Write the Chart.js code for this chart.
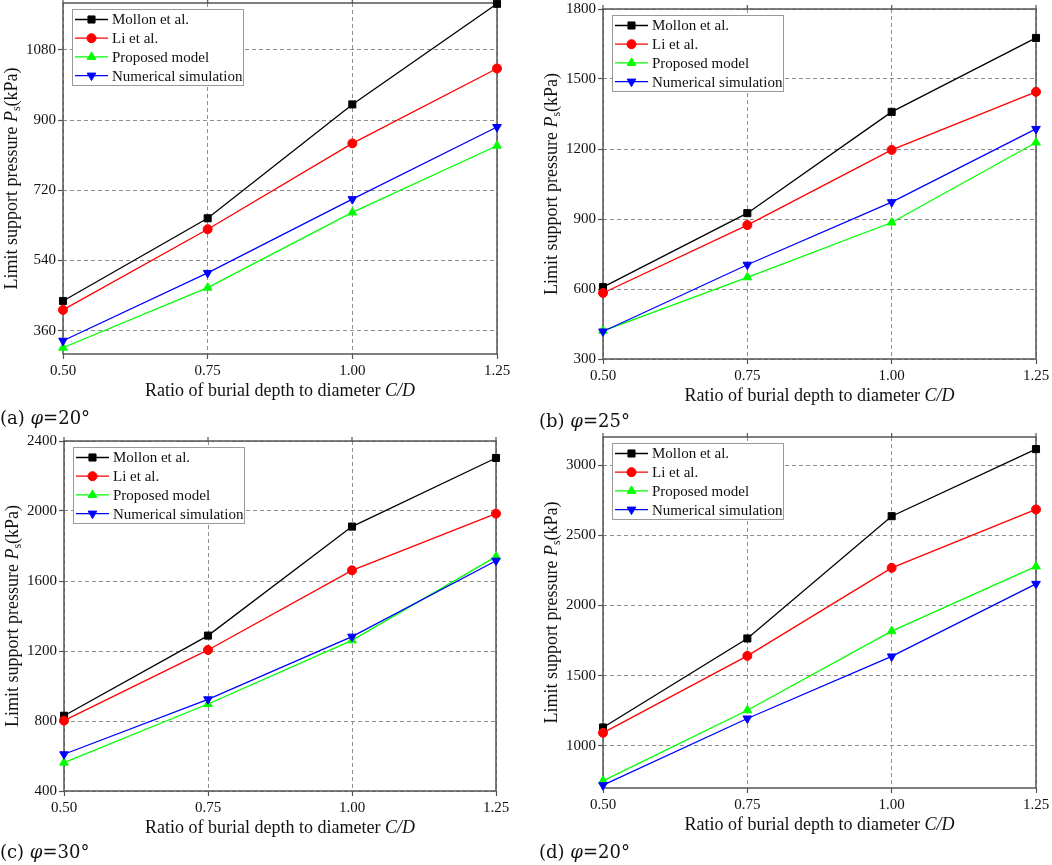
<!DOCTYPE html>
<html lang="en">
<head>
  <meta charset="UTF-8">
  <title>Limit support pressure vs C/D</title>
  <script src="https://cdn.jsdelivr.net/npm/chart.js"></script>
  <style>
    body {
      margin: 0;
      width: 1052px;
      height: 865px;
      overflow: hidden;
      background: #fff;
      position: relative;
    }
    .panel { position: absolute; }
    .cap {
      position: absolute;
      font-family: "DejaVu Serif", serif;
      font-size: 18px;
      line-height: 24px;
      color: #111;
      white-space: nowrap;
    }
  </style>
</head>
<body>

<div class="panel" style="left:0;top:0;width:526px;height:430px"><canvas id="chartA"></canvas></div>
<div class="panel" style="left:526px;top:0;width:526px;height:430px"><canvas id="chartB"></canvas></div>
<div class="panel" style="left:0;top:430px;width:526px;height:435px"><canvas id="chartC"></canvas></div>
<div class="panel" style="left:526px;top:430px;width:526px;height:435px"><canvas id="chartD"></canvas></div>

<div class="cap" style="left:0;top:406px">(a) <i>φ</i>=20°</div>
<div class="cap" style="left:539px;top:409px">(b) <i>φ</i>=25°</div>
<div class="cap" style="left:0;top:840px">(c) <i>φ</i>=30°</div>
<div class="cap" style="left:539px;top:840px">(d) <i>φ</i>=20°</div>

<script>
// C/D ratios on the x axis
const ratios = ['0.50', '0.75', '1.00', '1.25'];
const seriesNames = ['Mollon et al.', 'Li et al.', 'Proposed model', 'Numerical simulation'];

// (a) phi = 20
const mollonA = [436, 648, 940, 1198];
const liA = [413, 620, 840, 1032];
const proposedA = [316, 470, 663, 834];
const numericalA = [334, 508, 697, 882];
const yTicksA = [360, 540, 720, 900, 1080];

// (b) phi = 25
const mollonB = [608, 925, 1359, 1676];
const liB = [583, 874, 1196, 1445];
const proposedB = [421, 650, 885, 1228];
const numericalB = [418, 704, 972, 1286];
const yTicksB = [300, 600, 900, 1200, 1500, 1800];

// (c) phi = 30
const mollonC = [830, 1288, 1911, 2303];
const liC = [802, 1206, 1661, 1985];
const proposedC = [562, 897, 1261, 1739];
const numericalC = [610, 924, 1282, 1716];
const yTicksC = [400, 800, 1200, 1600, 2000, 2400];

// (d) phi = 20 (as labelled in the figure)
const mollonD = [1131, 1765, 2636, 3114];
const liD = [1093, 1641, 2268, 2684];
const proposedD = [751, 1254, 1817, 2278];
const numericalD = [720, 1195, 1637, 2154];
const yTicksD = [1000, 1500, 2000, 2500, 3000];

const serif = '"Liberation Serif", "Times New Roman", serif';
const tickFont = { family: serif, size: 15 };

// marker look per series
const looks = [
  { color: '#000000', pointStyle: 'rect', pointRadius: 5, rotation: 0 },
  { color: '#ff0000', pointStyle: 'circle', pointRadius: 4.5, rotation: 0 },
  { color: '#00ff00', pointStyle: 'triangle', pointRadius: 5, rotation: 0 },
  { color: '#0000ff', pointStyle: 'triangle', pointRadius: 5, rotation: 180 }
];

// box around plot + top ticks, drawn under the lines
const framePlugin = {
  id: 'frame',
  beforeDatasetsDraw(chart) {
    const { ctx, chartArea: a, scales } = chart;
    ctx.save();
    ctx.strokeStyle = '#555';
    ctx.lineWidth = 1.2;
    ctx.beginPath();
    scales.x.ticks.forEach((t, i) => {
      const px = scales.x.getPixelForTick(i);
      ctx.moveTo(px, a.top);
      ctx.lineTo(px, a.top - 4);
    });
    ctx.stroke();
    ctx.lineWidth = 1.5;
    ctx.strokeRect(a.left, a.top, a.right - a.left, a.bottom - a.top);
    ctx.restore();
  }
};

// legend box inside the plot plus the two axis titles
const legendPlugin = {
  id: 'boxLegend',
  afterDraw(chart) {
    const { ctx, chartArea: a } = chart;
    const x0 = a.left + 9, y0 = a.top + 6, w = 171, h = 76;
    ctx.save();
    ctx.fillStyle = '#fff';
    ctx.fillRect(x0, y0, w, h);
    ctx.strokeStyle = '#999';
    ctx.lineWidth = 1;
    ctx.strokeRect(x0 + 0.5, y0 + 0.5, w, h);

    chart.data.datasets.forEach((ds, i) => {
      const cy = y0 + 10.5 + i * 18.7;
      ctx.strokeStyle = ds.borderColor;
      ctx.lineWidth = ds.borderWidth;
      ctx.beginPath();
      ctx.moveTo(x0 + 3, cy);
      ctx.lineTo(x0 + 36, cy);
      ctx.stroke();
      ctx.fillStyle = ds.backgroundColor;
      ctx.lineWidth = 1;
      Chart.helpers.drawPoint(ctx, {
        pointStyle: ds.pointStyle,
        radius: ds.pointRadius,
        rotation: ds.pointRotation,
        borderWidth: 1
      }, x0 + 19.5, cy);
      ctx.fillStyle = '#111';
      ctx.font = '15px ' + serif;
      ctx.textBaseline = 'middle';
      ctx.textAlign = 'left';
      ctx.fillText(ds.label, x0 + 40, cy + 1);
    });

    // x title with italic C/D
    ctx.fillStyle = '#111';
    ctx.textBaseline = 'middle';
    ctx.textAlign = 'left';
    const xPart1 = 'Ratio of burial depth to diameter ';
    const xPart2 = 'C/D';
    ctx.font = '18px ' + serif;
    const w1 = ctx.measureText(xPart1).width;
    ctx.font = 'italic 18px ' + serif;
    const w2 = ctx.measureText(xPart2).width;
    let xs = (a.left + a.right) / 2 - (w1 + w2) / 2;
    const xy = a.bottom + 37.5;
    ctx.font = '18px ' + serif;
    ctx.fillText(xPart1, xs, xy);
    ctx.font = 'italic 18px ' + serif;
    ctx.fillText(xPart2, xs + w1, xy);

    // y title with P subscript s
    const parts = [
      { t: 'Limit support pressure ', f: '18px ' + serif, dy: 0 },
      { t: 'P', f: 'italic 18px ' + serif, dy: 0 },
      { t: 's', f: '12px ' + serif, dy: 5 },
      { t: '(kPa)', f: '18px ' + serif, dy: 0 }
    ];
    let total = 0;
    parts.forEach(p => { ctx.font = p.f; p.w = ctx.measureText(p.t).width; total += p.w; });
    ctx.translate(a.left - 51, (a.top + a.bottom) / 2);
    ctx.rotate(-Math.PI / 2);
    let px = -total / 2;
    parts.forEach(p => {
      ctx.font = p.f;
      ctx.fillText(p.t, px, p.dy);
      px += p.w;
    });
    ctx.restore();
  }
};

function makeChart(id, series, yMin, yMax, yTicks, pad) {
  const datasets = series.map((vals, i) => ({
    label: seriesNames[i],
    data: vals,
    borderColor: looks[i].color,
    backgroundColor: looks[i].color,
    borderWidth: 1.3,
    pointStyle: looks[i].pointStyle,
    pointRadius: looks[i].pointRadius,
    pointRotation: looks[i].rotation,
    pointBorderWidth: 1,
    pointHoverRadius: looks[i].pointRadius,
    tension: 0,
    fill: false,
    clip: false,
    order: -i
  }));

  const gridOpts = {
    color: '#8e8e8e',
    lineWidth: 1,
    tickLength: 5,
    tickColor: '#555',
    tickWidth: 1.2,
    tickBorderDash: []
  };

  return new Chart(document.getElementById(id), {
    type: 'line',
    data: { labels: ratios, datasets: datasets },
    options: {
      responsive: true,
      maintainAspectRatio: false,
      animation: false,
      events: [],
      layout: {
        autoPadding: false,
        padding: { left: 0, top: pad.top, right: pad.right, bottom: 0 }
      },
      plugins: {
        legend: { display: false },
        tooltip: { enabled: false }
      },
      scales: {
        x: {
          type: 'category',
          offset: false,
          grid: gridOpts,
          border: { display: false, dash: [4, 3] },
          ticks: { font: tickFont, color: '#111', padding: 3, maxRotation: 0, autoSkip: false },
          afterFit: s => { s.height = pad.bottom; s.paddingLeft = 0; s.paddingRight = 0; }
        },
        y: {
          min: yMin,
          max: yMax,
          grid: gridOpts,
          border: { display: false, dash: [4, 3] },
          afterBuildTicks: s => { s.ticks = yTicks.map(v => ({ value: v })); },
          ticks: { font: tickFont, color: '#111', padding: 2, autoSkip: false, callback: v => String(v) },
          afterFit: s => { s.width = pad.left; s.paddingTop = 0; s.paddingBottom = 0; }
        }
      }
    },
    plugins: [framePlugin, legendPlugin]
  });
}

makeChart('chartA', [mollonA, liA, proposedA, numericalA], 300, 1200, yTicksA, { left: 63, top: 3, right: 29, bottom: 76 });
makeChart('chartB', [mollonB, liB, proposedB, numericalB], 300, 1800, yTicksB, { left: 77, top: 9, right: 16, bottom: 71 });
makeChart('chartC', [mollonC, liC, proposedC, numericalC], 400, 2400, yTicksC, { left: 64, top: 11, right: 30, bottom: 74 });
makeChart('chartD', [mollonD, liD, proposedD, numericalD], 700, 3200, yTicksD, { left: 77, top: 7, right: 16, bottom: 77 });
</script>
</body>
</html>
